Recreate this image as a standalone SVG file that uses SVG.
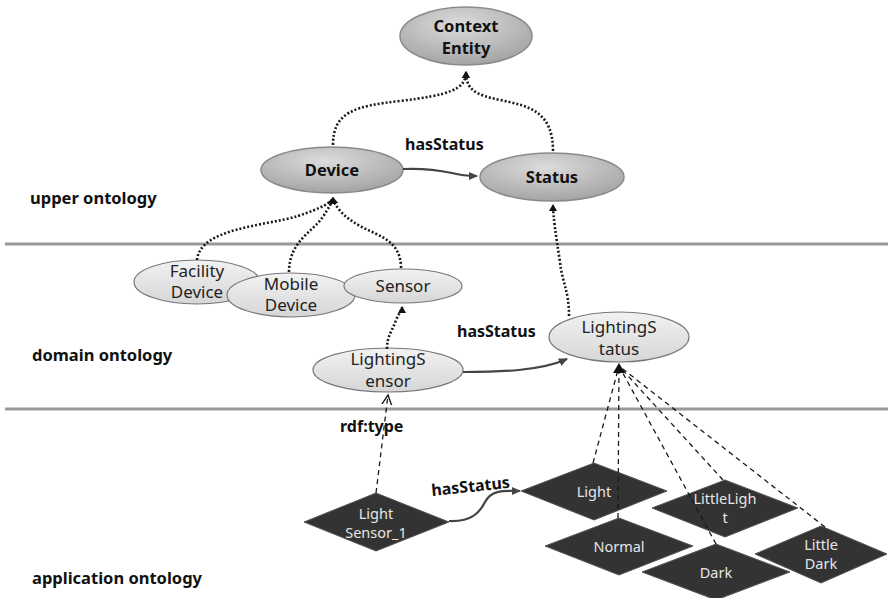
<svg xmlns="http://www.w3.org/2000/svg" width="888" height="598" viewBox="0 0 888 598">
<style>
text{font-family:"Noto Sans","Noto Sans CJK KR",sans-serif;}
.lbl{font-weight:bold;font-size:16px;fill:#111;}
.side{font-weight:bold;font-size:16.5px;fill:#111;}
.up{fill:url(#gUp);stroke:#8a8a8a;stroke-width:1.5;}
.upt{font-weight:bold;font-size:16.5px;fill:#111;text-anchor:middle;}
.dom{fill:url(#gDom);stroke:#777;stroke-width:1.2;}
.domt{font-size:17px;fill:#222;text-anchor:middle;}
.dia{fill:#333;stroke:#555;stroke-width:1;}
.diat{font-size:14.5px;fill:#e6e6e6;text-anchor:middle;}
.dot{fill:none;stroke:#1a1a1a;stroke-width:2.6;stroke-dasharray:2 2;}
.dash{fill:none;stroke:#1a1a1a;stroke-width:1.3;stroke-dasharray:5 4;}
.sol{fill:none;stroke:#444;stroke-width:2.2;}
.layer{stroke:#999;stroke-width:3;}
</style>
<defs>
<radialGradient id="gUp" cx="0.45" cy="0.3" r="0.75">
<stop offset="0" stop-color="#dcdcdc"/><stop offset="0.6" stop-color="#b8b8b8"/><stop offset="1" stop-color="#a0a0a0"/>
</radialGradient>
<linearGradient id="gDom" x1="0" y1="0" x2="0" y2="1">
<stop offset="0" stop-color="#f2f2f2"/><stop offset="1" stop-color="#d6d6d6"/>
</linearGradient>
<marker id="ah" markerWidth="8" markerHeight="8" refX="6" refY="4" orient="auto" markerUnits="userSpaceOnUse">
<path d="M0,0 L7,4 L0,8 z" fill="#111"/>
</marker>
<marker id="ahs" markerWidth="10" markerHeight="10" refX="8" refY="5" orient="auto" markerUnits="userSpaceOnUse">
<path d="M0,1 L9,5 L0,9 z" fill="#444"/>
</marker>
<marker id="aho" markerWidth="12" markerHeight="12" refX="10" refY="6" orient="auto" markerUnits="userSpaceOnUse">
<path d="M0,1 L10,6 L0,11" fill="none" stroke="#111" stroke-width="1.3"/>
</marker>
</defs>
<rect width="888" height="598" fill="#fff"/>
<line class="layer" x1="5" y1="244" x2="888" y2="244"/>
<line class="layer" x1="5" y1="409" x2="888" y2="409"/>
<text class="side" x="30" y="204">upper ontology</text>
<text class="side" x="32" y="361">domain ontology</text>
<text class="side" x="32" y="584">application ontology</text>

<g id="context-entity"><ellipse class="up" cx="466" cy="36" rx="66" ry="29"/><text class="upt" x="466" y="32">Context</text><text class="upt" x="466" y="54">Entity</text></g>
<g id="device"><ellipse class="up" cx="332" cy="170" rx="71" ry="23"/><text class="upt" x="332" y="176">Device</text></g>
<g id="status"><ellipse class="up" cx="552" cy="177" rx="72" ry="24"/><text class="upt" x="552" y="183">Status</text></g>

<g id="facility-device"><ellipse class="dom" cx="197" cy="282" rx="63" ry="22"/><text class="domt" x="197" y="277">Facility</text><text class="domt" x="197" y="298">Device</text></g>
<g id="mobile-device"><ellipse class="dom" cx="291" cy="295" rx="64" ry="22"/><text class="domt" x="291" y="290">Mobile</text><text class="domt" x="291" y="311">Device</text></g>
<g id="sensor"><ellipse class="dom" cx="403" cy="286" rx="59" ry="17"/><text class="domt" x="403" y="292">Sensor</text></g>
<g id="lighting-sensor"><ellipse class="dom" cx="388" cy="370" rx="75" ry="22"/><text class="domt" x="388" y="365">LightingS</text><text class="domt" x="388" y="387">ensor</text></g>
<g id="lighting-status"><ellipse class="dom" cx="619" cy="337" rx="70" ry="25"/><text class="domt" x="619" y="333">LightingS</text><text class="domt" x="619" y="355">tatus</text></g>

<g id="light-sensor-1"><polygon class="dia" points="304,522 376,493 449,522 376,551"/><text class="diat" x="376" y="519">Light</text><text class="diat" x="376" y="538">Sensor_1</text></g>
<g id="light"><polygon class="dia" points="521,491 594,463 667,491 594,520"/><text class="diat" x="594" y="497">Light</text></g>
<g id="little-light"><polygon class="dia" points="652,508 725,480 798,508 725,537"/><text class="diat" x="725" y="504">LittleLigh</text><text class="diat" x="725" y="523">t</text></g>
<g id="normal"><polygon class="dia" points="545,546 619,518 693,546 619,575"/><text class="diat" x="619" y="552">Normal</text></g>
<g id="little-dark"><polygon class="dia" points="755,554 821,526 887,554 821,583"/><text class="diat" x="821" y="550">Little</text><text class="diat" x="821" y="569">Dark</text></g>
<g id="dark"><polygon class="dia" points="642,572 716,544 790,572 716,600"/><text class="diat" x="716" y="578">Dark</text></g>

<g id="connectors">
<path class="dot" d="M333,145 C333,112 355,106 400,101 C448,95 466,90 466,72" marker-end="url(#ah)"/>
<path class="dot" d="M553,151 C553,112 530,106 500,100 C476,95 466,90 466,72" marker-end="url(#ah)"/>
<path class="sol" d="M403,169 C425,168 438,170 452,173 C463,176 468,176 477,176" marker-end="url(#ahs)"/>
<text class="lbl" x="405" y="150">hasStatus</text>
<path class="dot" d="M197,260 C200,228 265,226 298,216 C322,208 332,202 333,198" marker-end="url(#ah)"/>
<path class="dot" d="M289,272 C289,242 312,232 322,218 C329,208 332,202 333,198" marker-end="url(#ah)"/>
<path class="dot" d="M401,268 C401,240 378,236 360,226 C342,216 335,206 333,198" marker-end="url(#ah)"/>
<path class="dot" d="M387,349 C387,335 393,330 396,320 C399,313 402,310 402,307" marker-end="url(#ah)"/>
<path class="dot" d="M569,316 C569,290 562,282 560,262 C556,236 553,216 553,205" marker-end="url(#ah)"/>
<path class="sol" d="M463,372 C500,372 540,371 567,359" marker-end="url(#ahs)"/>
<text class="lbl" x="457" y="337">hasStatus</text>
<path class="dash" d="M376,493 L388,395" marker-end="url(#aho)"/>
<text class="lbl" x="340" y="432">rdf:type</text>
<path class="sol" d="M449,521 C472,522 480,512 485,502 C492,489 505,491 520,491" stroke-width="1.6" marker-end="url(#ahs)"/>
<text class="lbl" transform="translate(432,496) rotate(-6)">hasStatus</text>
<path class="dash" d="M593,463 L619,366"/>
<path class="dash" d="M618,518 L619,366"/>
<path class="dash" d="M723,480 L619,366"/>
<path class="dash" d="M716,544 L619,366"/>
<path class="dash" d="M825,527 L619,366"/>
<path d="M619,363 L613,373 L625,373 z" fill="#111"/>
</g>
</svg>
